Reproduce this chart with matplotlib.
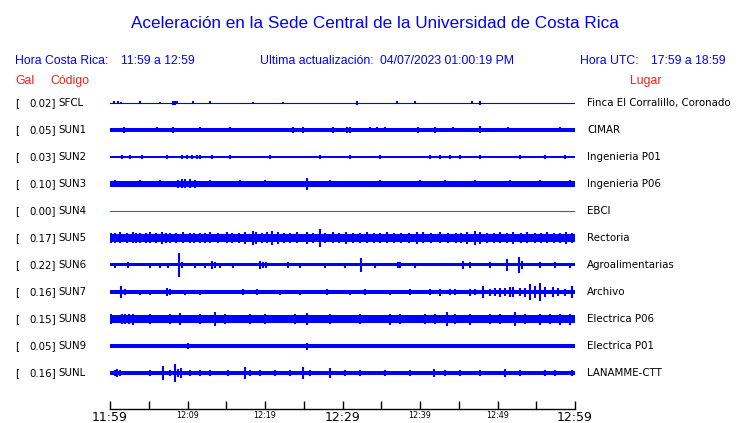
import matplotlib
matplotlib.use("Agg")
import matplotlib.pyplot as plt

# Stations, peak acceleration (Gal) and place names
codes = ["SFCL", "SUN1", "SUN2", "SUN3", "SUN4", "SUN5", "SUN6", "SUN7", "SUN8", "SUN9", "SUNL"]
gal = [0.02, 0.05, 0.03, 0.10, 0.00, 0.17, 0.22, 0.16, 0.15, 0.05, 0.16]
places = ["Finca El Corralillo, Coronado", "CIMAR", "Ingenieria P01", "Ingenieria P06", "EBCI",
          "Rectoria", "Agroalimentarias", "Archivo", "Electrica P06", "Electrica P01", "LANAMME-CTT"]

# background noise level of each trace (half width, display px)
base = [0.4, 1.7, 0.8, 2.6, 0.4, 4.3, 1.5, 1.7, 3.6, 1.6, 1.7]

# bursts: (minutes after 11:59, half amplitude in display px)
bursts = [
    [(0.5, 1.5), (1.0, 1.5), (1.4, 1.2), (3.9, 1.5), (6.5, 1.2), (8.1, 2), (8.4, 2), (8.6, 1.5),
     (10.7, 1.5), (12.9, 1.5), (18.4, 1.2), (22.3, 1.2), (31.9, 2), (37.0, 1.5), (39.4, 1.5),
     (46.7, 1.5), (47.7, 2)],
    [(1.8, 3), (6.1, 2.5), (8.1, 3), (11.6, 2.5), (15.5, 2.5), (23.6, 3), (24.9, 3), (28.8, 3),
     (30.6, 3), (31.0, 3), (33.5, 2.5), (34.5, 2.5), (35.5, 2.5), (39.7, 3), (41.9, 3), (44.3, 2.5),
     (47.7, 3.5), (51.4, 2.5), (58.1, 2.5)],
    [(1.5, 2), (2.6, 2), (4.1, 2), (7.4, 2), (9.3, 2), (9.9, 2), (10.6, 2), (11.2, 2), (11.6, 2),
     (13.2, 2), (15.5, 1.8), (20.6, 1.8), (27.1, 1.8), (31.0, 1.8), (34.8, 1.8), (41.3, 2),
     (42.6, 2), (43.9, 2), (45.2, 2), (47.7, 1.8), (52.9, 1.8), (56.1, 1.8), (58.7, 1.8)],
    [(0.6, 3.5), (3.9, 3.5), (6.5, 3.5), (8.8, 4), (9.3, 4.5), (9.7, 4.5), (10.3, 4.5), (11.0, 4),
     (12.9, 3.5), (16.8, 3.5), (20.0, 3.5), (25.4, 6), (28.4, 3.5), (34.8, 3.5), (40.0, 3.5),
     (43.2, 3.5), (47.1, 3.5), (51.6, 3.5), (55.5, 3.5), (59.4, 3.5)],
    [],
    [(0.1, 5), (0.7, 5), (1.3, 5.5), (2.2, 5), (3.0, 5.5), (3.4, 5), (3.9, 5), (4.6, 5), (5.2, 5.5),
     (5.9, 5), (6.7, 6), (7.2, 5), (7.7, 5), (8.5, 5), (9.4, 5.5), (10.3, 5), (10.9, 5), (11.6, 5),
     (12.3, 5), (12.9, 5.5), (13.9, 5), (15.1, 5.5), (15.8, 5), (16.6, 5), (17.4, 6), (18.5, 7),
     (18.9, 6), (19.6, 5), (20.2, 5.5), (20.9, 7), (21.7, 6), (22.4, 5), (23.2, 5), (24.1, 5.5),
     (25.4, 6), (26.2, 5), (27.1, 9), (27.8, 5), (28.8, 5.5), (29.6, 5), (30.5, 6), (31.4, 5),
     (32.2, 5), (33.1, 5.5), (34.0, 5), (34.8, 5), (35.7, 5.5), (36.6, 5), (37.6, 5), (38.6, 5),
     (39.6, 6), (40.4, 5.5), (41.4, 5), (42.6, 5.5), (43.6, 5), (44.6, 5), (45.3, 5), (46.0, 6),
     (47.1, 7), (47.7, 6), (48.6, 5), (49.5, 5), (50.3, 5.5), (51.2, 5), (52.0, 6), (53.0, 5),
     (53.8, 5.5), (54.8, 5), (55.6, 5), (56.4, 5.5), (57.3, 5), (58.1, 5), (58.9, 6), (59.6, 5)],
    [(0.6, 2.5), (2.3, 3), (5.2, 2.5), (6.5, 2.5), (7.5, 2.5), (8.9, 12), (9.3, 3), (11.0, 2.5),
     (12.3, 2.5), (13.2, 4), (13.6, 3), (14.2, 2.5), (15.9, 2.5), (19.4, 4), (19.7, 3), (20.1, 3),
     (23.0, 3), (24.5, 2.5), (27.7, 2.5), (30.3, 2.5), (32.4, 7), (34.2, 2.5), (37.2, 3), (37.4, 3),
     (39.4, 2.5), (45.6, 4), (46.5, 3), (49.0, 3), (51.2, 6), (52.8, 8), (53.2, 4), (55.5, 3),
     (57.4, 3), (59.4, 2.5)],
    [(1.4, 6), (1.9, 3), (3.9, 2.5), (5.2, 2.5), (7.4, 4), (7.7, 3), (9.7, 2.5), (11.6, 2.5),
     (17.2, 3), (19.0, 3), (21.9, 2.5), (24.5, 2.5), (28.0, 3), (31.0, 2.5), (32.9, 3), (36.1, 2.5),
     (38.7, 3), (41.3, 3), (42.6, 3.5), (43.9, 3), (44.5, 3), (46.5, 3.5), (47.1, 3), (48.1, 6),
     (49.0, 3.5), (49.7, 4), (50.3, 4.5), (51.0, 4), (51.6, 5), (52.0, 5), (52.9, 4), (53.5, 4.5),
     (54.2, 8), (54.8, 6), (55.5, 9), (56.1, 5), (57.2, 5), (57.8, 4), (58.7, 3.5), (59.6, 6)],
    [(0.1, 5), (0.5, 4.5), (1.0, 4.5), (1.5, 5), (1.9, 5), (2.5, 5), (3.0, 5.5), (3.5, 4.5),
     (3.9, 4.5), (4.6, 4.5), (5.2, 5), (5.9, 4.5), (6.5, 4.5), (7.1, 4.5), (7.7, 5), (8.4, 4.5),
     (9.0, 6), (9.6, 4.5), (10.3, 4.5), (10.9, 4.5), (11.6, 5), (12.5, 4.5), (13.5, 7), (14.1, 4.5),
     (14.8, 5), (15.8, 4.5), (16.8, 4.5), (17.5, 4.5), (18.1, 5), (19.0, 4.5), (20.0, 5),
     (20.9, 4.5), (21.9, 4.5), (22.9, 4.5), (23.9, 5), (24.6, 4.5), (25.4, 6), (26.5, 4.5),
     (27.4, 4.5), (28.4, 5), (29.4, 4.5), (30.3, 4.5), (31.3, 4.5), (32.3, 5), (33.2, 4.5),
     (34.2, 4.5), (35.2, 4.5), (36.1, 5.5), (37.4, 5), (38.0, 4.5), (38.7, 4.5), (39.7, 4.5),
     (40.6, 5), (41.9, 5), (42.7, 4.5), (43.5, 7), (44.5, 5), (45.5, 4.5), (46.5, 5.5), (47.7, 4.5),
     (48.4, 4.5), (49.0, 5), (49.7, 4.5), (50.3, 5), (51.3, 4.5), (52.3, 7), (53.0, 4.5), (53.5, 5),
     (54.5, 4.5), (55.5, 5.5), (56.2, 4.5), (56.8, 5), (57.5, 4.5), (58.1, 5.5), (58.8, 4.5),
     (59.4, 5.5)],
    [(5.2, 2), (10.1, 3), (25.4, 3.5), (37.4, 2)],
    [(0.6, 3), (0.9, 4), (1.3, 3), (5.2, 2.5), (6.8, 7), (7.7, 3), (8.4, 9), (8.8, 4), (9.2, 5),
     (10.3, 2.5), (11.6, 2.5), (12.9, 3), (15.2, 2.5), (17.4, 6), (18.1, 3), (19.4, 2.5), (21.3, 2.5),
     (23.2, 3), (24.9, 6), (25.8, 3), (28.4, 5), (30.3, 3), (32.3, 3), (35.5, 2.5), (38.7, 2.5),
     (41.8, 4), (43.2, 3), (45.2, 2.5), (47.7, 2.5), (51.0, 4), (52.9, 3), (56.1, 3), (57.4, 2.5),
     (59.6, 3)],
]

tick_min = list(range(0, 61, 5))
tick_lab = ["11:59", "", "12:09", "", "12:19", "", "12:29", "", "12:39", "", "12:49", "", "12:59"]

W, H = 740, 423
blue = "#0000ff"
red = "#ff1a1a"
SP = 27.0  # px between traces

fig = plt.figure(figsize=(W / 100, H / 100), dpi=100)

# traces axes: x in minutes, trace i sits at y = -i
ax = fig.add_axes([110 / W, 14 / H, 465 / W, (409 - 88) / H])
ax.set_xlim(0, 60)
ax.set_ylim(-(409 - 103) / SP, (103 - 88) / SP)

for i in range(len(codes)):
    y0 = -i
    if i == 0:
        ax.plot([0, 60], [y0, y0], color=blue, lw=0.8)
    elif codes[i] == "SUN4":
        ax.plot([0, 60], [y0, y0], color=red, lw=0.8)
    else:
        b = base[i] / SP
        ax.fill_between([0, 60], y0 - b, y0 + b, color=blue, lw=0)
    if bursts[i]:
        t = [p[0] for p in bursts[i]]
        a = [p[1] / SP for p in bursts[i]]
        ax.vlines(t, [y0 - v for v in a], [y0 + v for v in a], color=blue, lw=1.5)

# time axis
for s in ["top", "left", "right"]:
    ax.spines[s].set_visible(False)
ax.spines["bottom"].set_linewidth(1.0)
ax.set_yticks([])
ax.set_xticks(tick_min)
ax.set_xticklabels(tick_lab)
ax.tick_params(axis="x", direction="in", length=6, width=1.0, pad=1.5)
for lab in ax.get_xticklabels():
    big = lab.get_text() in ("11:59", "12:29", "12:59")
    lab.set_fontsize(9 if big else 5.8)

def fx(x):
    return x / W

def fy(y):
    return 1 - y / H

hdr = dict(family="Liberation Sans", color=blue, fontsize=8.8, va="center")
fig.text(fx(375), fy(23), "Aceleración en la Sede Central de la Universidad de Costa Rica",
         ha="center", va="center", family="Liberation Sans", color=blue, fontsize=12.3)
fig.text(fx(15), fy(60.5), "Hora Costa Rica:", **hdr)
fig.text(fx(121), fy(60.5), "11:59 a 12:59", **hdr)
fig.text(fx(260), fy(60.5), "Ultima actualización:", **hdr)
fig.text(fx(380), fy(60.5), "04/07/2023 01:00:19 PM", **hdr)
fig.text(fx(580), fy(60.5), "Hora UTC:", **hdr)
fig.text(fx(651), fy(60.5), "17:59 a 18:59", **hdr)

red_hdr = dict(hdr, color=red)
fig.text(fx(15), fy(81), "Gal", **red_hdr)
fig.text(fx(50), fy(81), "Código", **red_hdr)
fig.text(fx(630), fy(81), "Lugar", **red_hdr)

# station labels
lab = dict(family="DejaVu Sans", color="black", fontsize=7.4, va="center")
for i, (c, g, p) in enumerate(zip(codes, gal, places)):
    yy = fy(103 + SP * i)
    fig.text(fx(15), yy, "[", **lab)
    fig.text(fx(56), yy, f"{g:.2f}]", ha="right", **lab)
    fig.text(fx(58), yy, c, **lab)
    fig.text(fx(587), yy, p, **lab)

fig.savefig("out.png", dpi=100)
